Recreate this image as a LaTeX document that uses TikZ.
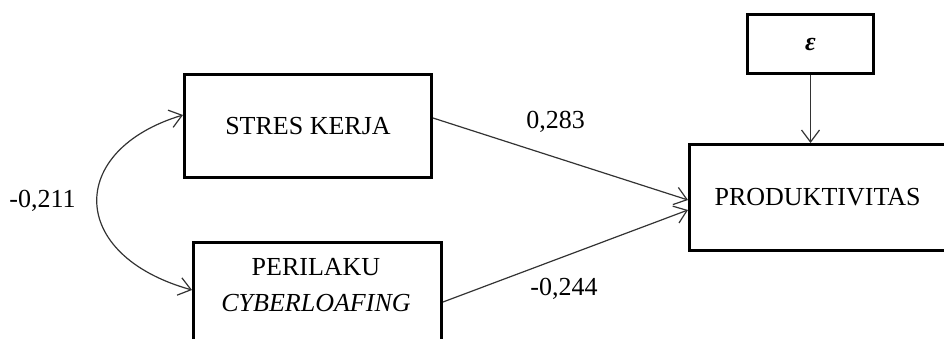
\documentclass[tikz,border=0pt]{standalone}
\usepackage{fontspec}
\setmainfont{Liberation Serif}
\usepackage{tikz}
\usetikzlibrary{positioning,arrows.meta}

\begin{document}
\begin{tikzpicture}[x=0.5pt, y=-0.5pt,
  var/.style={draw, rectangle, line width=1.6pt, inner sep=0pt, font=\fontsize{13}{18}\selectfont},
  coef/.style={inner sep=0pt, anchor=base, font=\fontsize{13}{15}\selectfont},
  arr/.style={-{Straight Barb[length=6pt,width=9pt]}, line width=0.6pt, draw=black!80},
  cov/.style={{Straight Barb[length=6pt,width=9pt]}-{Straight Barb[length=6pt,width=9pt]}, line width=0.6pt, draw=black!80}]
\useasboundingbox (0,0) rectangle (944,338);
\begin{scope}
\clip (0,0) rectangle (944,338);
% variables
\node[var, minimum width=123.4pt, minimum height=51.4pt] (sk) at (308,126) {STRES KERJA};
\node[var, minimum width=123.9pt, minimum height=52.5pt] (pc) at (317.5,295) {};
\node[inner sep=0pt, align=center, anchor=north, font=\fontsize{13}{18}\selectfont] (pctxt) at (316,258) {PERILAKU\\\textit{CYBERLOAFING}};
\node[var, minimum width=136pt, minimum height=52.9pt] (prod) at (825.6,197.5) {PRODUKTIVITAS\kern8pt};
\node[var, minimum width=62.9pt, minimum height=29.4pt, font=\bfseries\itshape\fontsize{13}{15}\selectfont] (eps) at (810.5,44) {ε};
% paths
\draw[arr] ([yshift=4pt]sk.east) -- ([yshift=-1.25pt]prod.west);
\draw[arr] ([yshift=-3.5pt]pc.east) -- ([yshift=-6.25pt]prod.west);
\draw[arr] (eps) -- (eps |- prod.north);
\draw[cov] ([yshift=5.5pt]sk.west) .. controls +(-116,35) and +(-125,-35) .. ([yshift=2.5pt]pc.west);
% coefficients
\node[coef] (b1) at (555.5,128) {0,283};
\node[coef] (b2) at (564,295) {-0,244};
\node[coef] (r12) at (42.5,207) {-0,211};
\end{scope}
\end{tikzpicture}
\end{document}
